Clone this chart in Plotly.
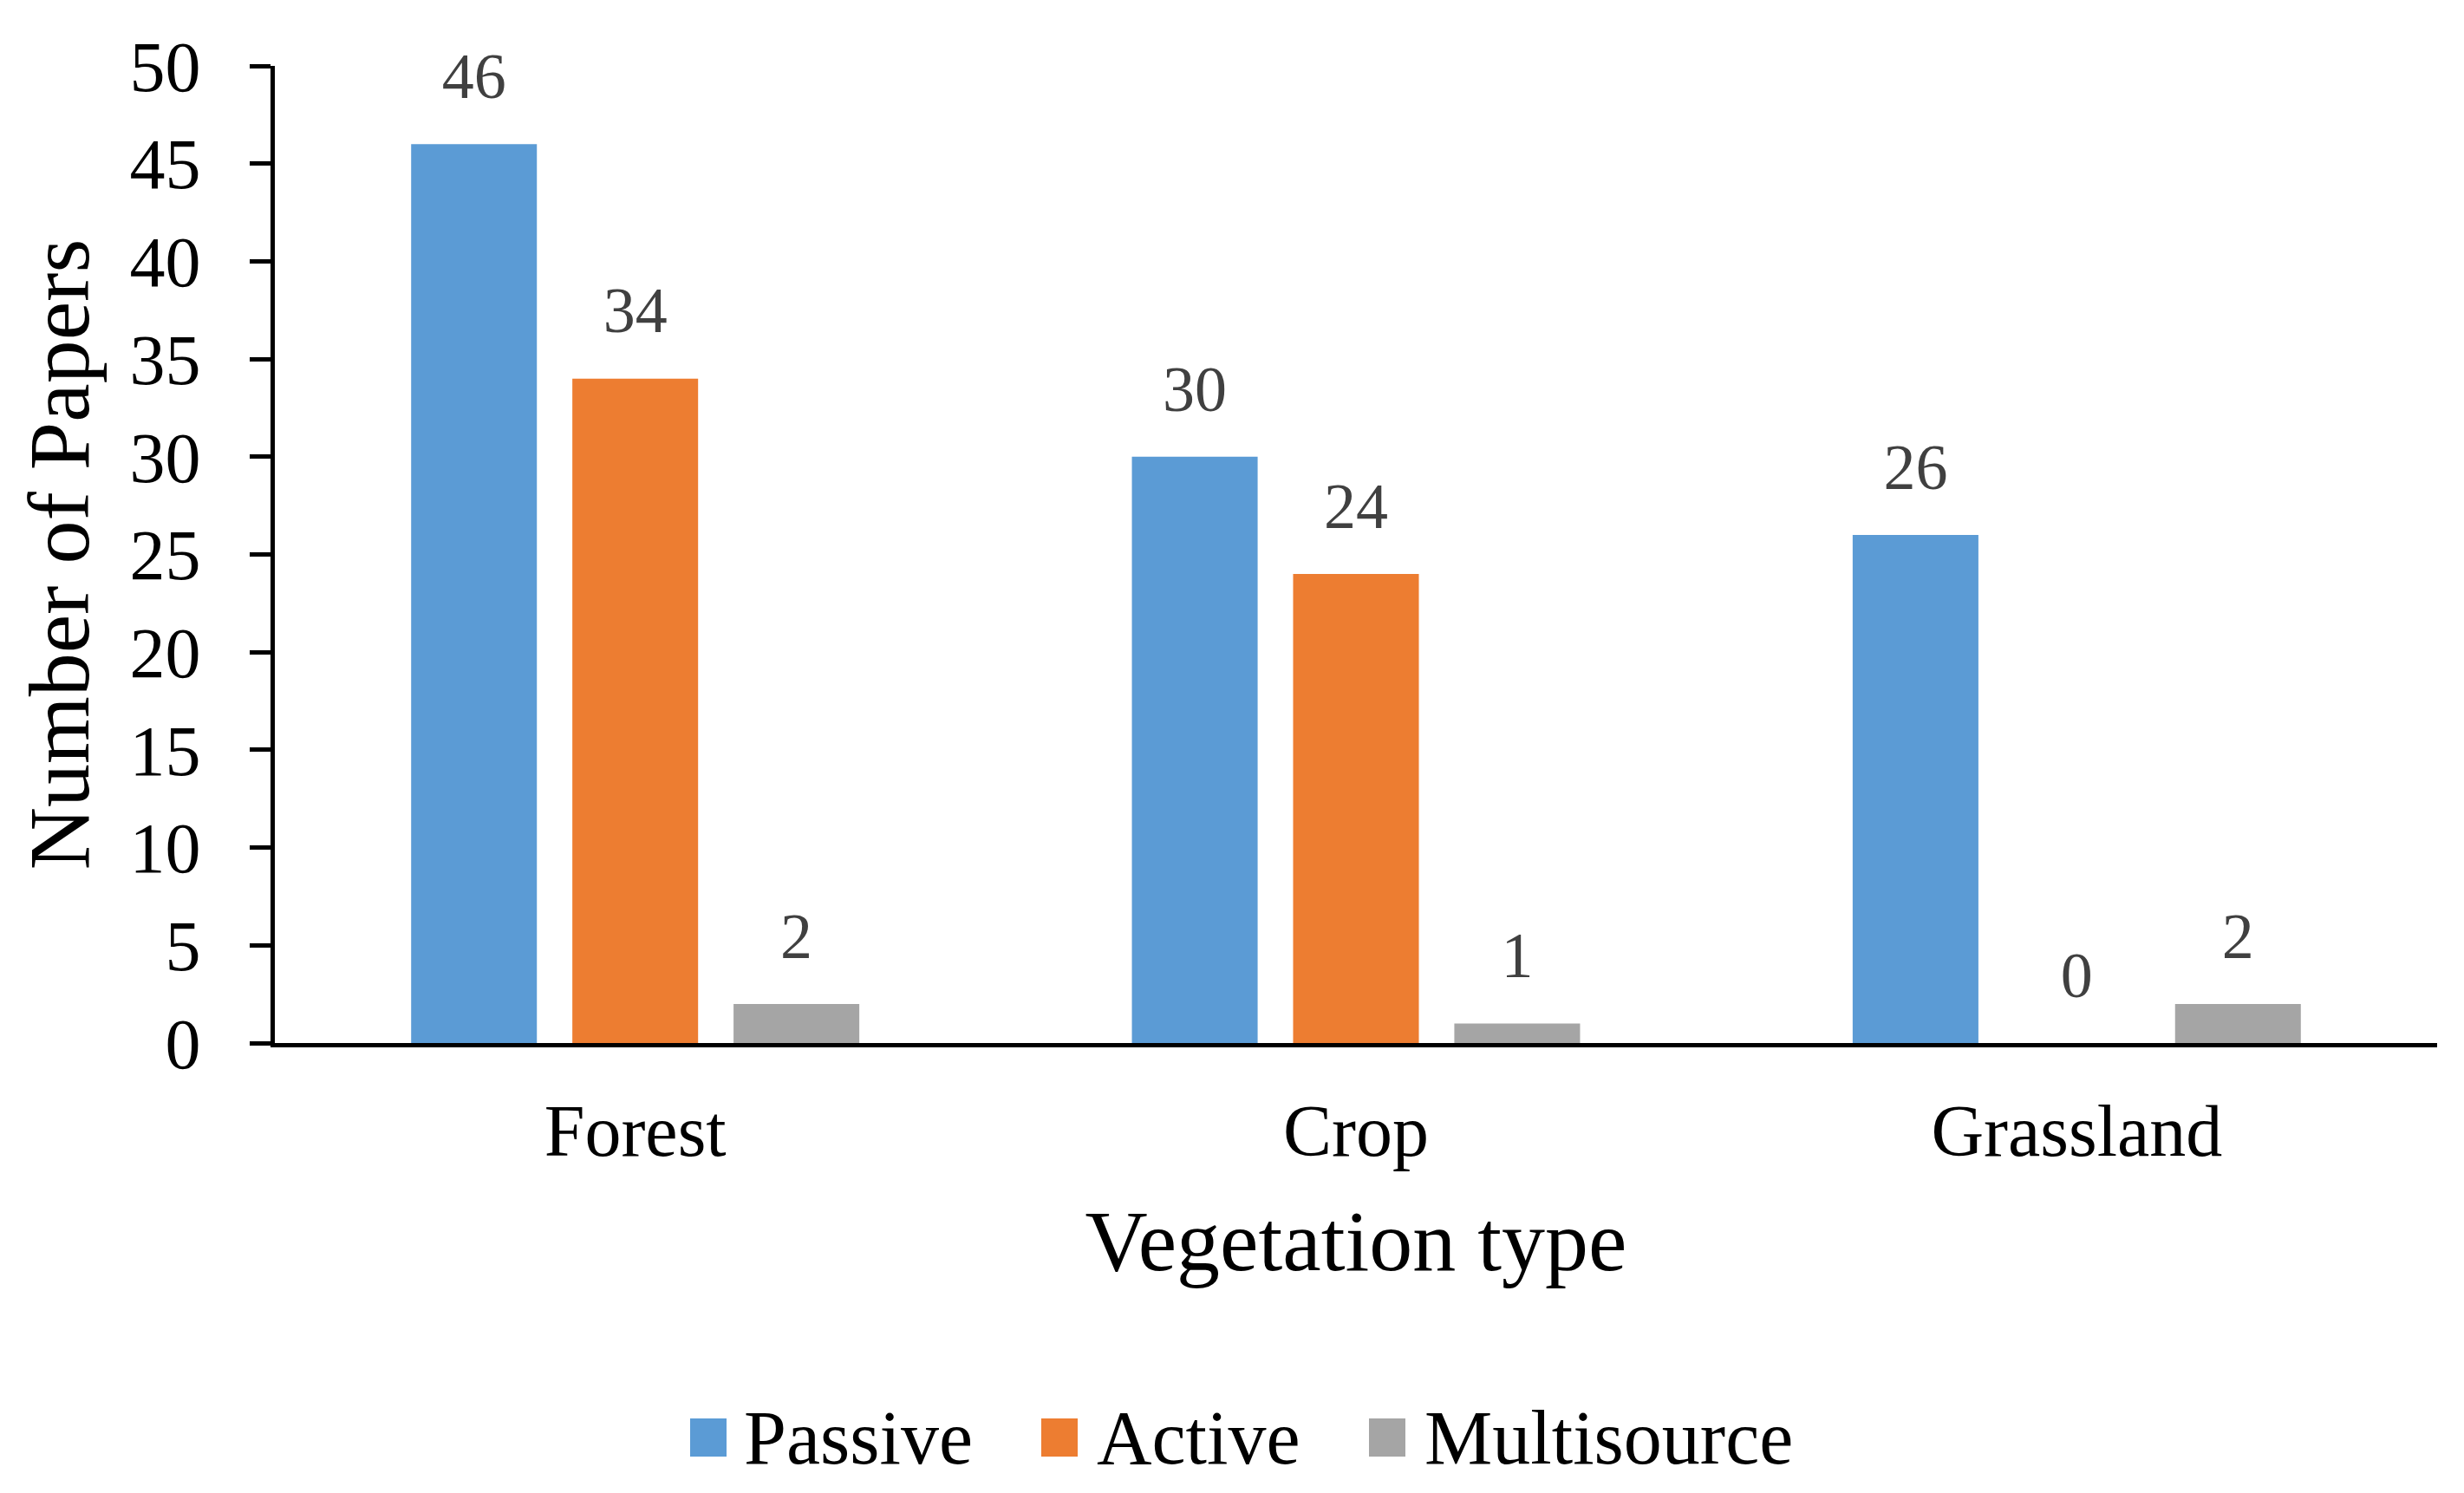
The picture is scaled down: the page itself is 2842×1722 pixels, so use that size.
import plotly.graph_objects as go

categories = ["Forest", "Crop", "Grassland"]
passive = [46, 30, 26]
active = [34, 24, 0]
multisource = [2, 1, 2]
series_names = ["Passive", "Active", "Multisource"]
y_ticks = [0, 5, 10, 15, 20, 25, 30, 35, 40, 45, 50]

colors = ["#5B9BD5", "#ED7D31", "#A5A5A5"]
FONT = "Liberation Serif"

W, H = 2842, 1722
ML, MR, MT, MB = 309, 39, 68, 527
PW, PH = W - ML - MR, H - MT - MB


def px_x(p):
    return (p - ML) / PW


def px_y(p):
    return (H - MB - p) / PH


fig = go.Figure()
for name, vals, col in zip(series_names, [passive, active, multisource], colors):
    fig.add_trace(go.Bar(
        x=categories, y=vals, name=name, marker=dict(color=col, line=dict(width=0)),
        offsetgroup=name, alignmentgroup="g", showlegend=False,
    ))
for name, vals in zip(series_names, [passive, active, multisource]):
    fig.add_trace(go.Scatter(
        x=categories, y=vals, mode="markers+text", text=[str(v) for v in vals],
        textposition="top center", offsetgroup=name, alignmentgroup="g",
        marker=dict(size=54, color="rgba(0,0,0,0)"), showlegend=False,
        textfont=dict(family=FONT, size=74, color="#404040"), cliponaxis=False,
        hoverinfo="skip",
    ))

# legend drawn as boxes + labels below the chart
legend_box_left = [788, 1193, 1571]
legend_text_left = [848, 1255, 1633]
shapes = []
annotations = []
for name, col, bx, tx in zip(series_names, colors, legend_box_left, legend_text_left):
    shapes.append(dict(type="rect", xref="paper", yref="paper",
                       x0=px_x(bx), x1=px_x(bx + 42), y0=px_y(1672), y1=px_y(1628),
                       fillcolor=col, line=dict(width=0)))
    annotations.append(dict(text=name, xref="paper", yref="paper", x=px_x(tx), y=px_y(1650),
                            xanchor="left", yanchor="middle", showarrow=False,
                            font=dict(family=FONT, size=88, color="black")))

fig.update_layout(
    width=W, height=H,
    margin=dict(l=ML, r=MR, t=MT, b=MB, autoexpand=False),
    plot_bgcolor="white", paper_bgcolor="white",
    barmode="group", bargap=0.329, bargroupgap=0.22,
    scattermode="group", scattergap=0.329,
    font=dict(family=FONT, color="black"),
    showlegend=False,
    shapes=shapes, annotations=annotations,
)
fig.update_xaxes(
    showline=True, linecolor="black", linewidth=5, ticks="", showgrid=False,
    tickfont=dict(family=FONT, size=84, color="black"), ticklabelstandoff=24,
    title=dict(text="Vegetation type", font=dict(family=FONT, size=100, color="black"), standoff=47),
    automargin=False, zeroline=False,
)
fig.update_yaxes(
    range=[0, 50], tickvals=y_ticks, showline=True, linecolor="black", linewidth=5,
    ticks="outside", ticklen=24, tickwidth=5, tickcolor="black", showgrid=False, zeroline=False,
    tickfont=dict(family=FONT, size=82, color="black"), ticklabelstandoff=40,
    title=dict(text="Number of Papers", font=dict(family=FONT, size=100, color="black"), standoff=15),
    automargin=False,
)

fig.write_html("out.html")
